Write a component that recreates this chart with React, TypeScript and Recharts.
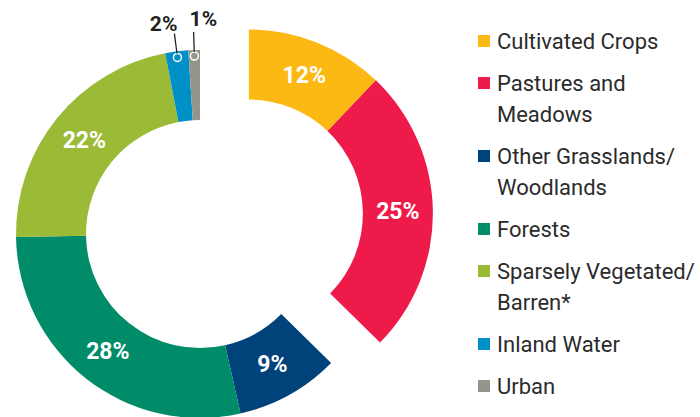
import { PieChart, Pie, Cell, Legend } from 'recharts';

const CATEGORIES = [
  'Cultivated Crops',
  'Pastures and Meadows',
  'Other Grasslands/ Woodlands',
  'Forests',
  'Sparsely Vegetated/ Barren*',
  'Inland Water',
  'Urban',
];
const SHARES = [12, 25, 9, 28, 22, 2, 1];
const COLORS = ['#FDB913', '#ED1A4A', '#00437A', '#008C69', '#9BBB37', '#0090C8', '#95958C'];
// first two slices are pulled out of the ring
const EXPLODED_COUNT = 2;

const RAD = Math.PI / 180;
const INNER = 114;
const OUTER = 184;
const CX = 200;
const CY = 234;
const EXPLODE = 53;

const rows = CATEGORIES.map((name, i) => ({ name, value: SHARES[i] }));
const total = SHARES.reduce((s, n) => s + n, 0);
const explodedRows = rows.slice(0, EXPLODED_COUNT);
const restRows = rows.slice(EXPLODED_COUNT);
const explodedSum = explodedRows.reduce((s, r) => s + r.value, 0);
const splitAngle = 90 - (360 * explodedSum) / total;
const explodeMid = (90 + splitAngle) / 2;
const exCx = CX + EXPLODE * Math.cos(explodeMid * RAD);
const exCy = CY - EXPLODE * Math.sin(explodeMid * RAD);

function makeLabel(count: number) {
  return (props: any) => {
    const { cx, cy, midAngle, innerRadius, outerRadius, value, index } = props;
    const pt = (r: number) => [cx + r * Math.cos(-midAngle * RAD), cy + r * Math.sin(-midAngle * RAD)];
    if (value >= 5) {
      const [x, y] = pt((innerRadius + outerRadius) / 2);
      return (
        <text x={x} y={y} textAnchor="middle" dominantBaseline="central" fill="#fff" fontSize={23} fontWeight={700}>
          {value}%
        </text>
      );
    }
    // small slices: marker circle + leader line + dark label above
    const [px, py] = pt(outerRadius - 6);
    const [sx, sy] = pt(outerRadius - 2);
    const [ex, ey] = pt(outerRadius + 18);
    const last = index === count - 1;
    return (
      <g>
        <circle cx={px} cy={py} r={4} fill="none" stroke="#fff" strokeWidth={1.5} />
        <line x1={sx} y1={sy} x2={ex} y2={ey} stroke="#231F20" strokeWidth={1.3} />
        <text
          x={last ? ex - 4 : ex + 3}
          y={last ? ey - 6 : ey - 3}
          textAnchor={last ? 'start' : 'end'}
          fill="#231F20"
          fontSize={21}
          fontWeight={700}
        >
          {value}%
        </text>
      </g>
    );
  };
}

const renderLegend = () => (
  <ul style={{ listStyle: 'none', margin: 0, padding: 0 }}>
    {CATEGORIES.map((name, i) => (
      <li
        key={name}
        style={{ display: 'flex', alignItems: 'flex-start', marginBottom: 11, fontSize: 22, lineHeight: '31px', color: '#2B2B2B' }}
      >
        <span style={{ width: 12, height: 12, background: COLORS[i], marginTop: 9, marginRight: 7, flexShrink: 0 }} />
        <span>{name}</span>
      </li>
    ))}
  </ul>
);

export default function App() {
  return (
    <div style={{ position: 'absolute', left: 0, top: 0, fontFamily: 'Roboto, sans-serif', background: '#fff' }}>
      <PieChart width={700} height={417} margin={{ top: 0, right: 0, bottom: 0, left: 0 }}>
        <Pie
          data={explodedRows}
          dataKey="value"
          nameKey="name"
          cx={exCx}
          cy={exCy}
          innerRadius={INNER}
          outerRadius={OUTER}
          startAngle={90}
          endAngle={splitAngle}
          stroke="none"
          label={makeLabel(explodedRows.length)}
          labelLine={false}
          isAnimationActive={false}
        >
          {explodedRows.map((r, i) => (
            <Cell key={r.name} fill={COLORS[i]} />
          ))}
        </Pie>
        <Pie
          data={restRows}
          dataKey="value"
          nameKey="name"
          cx={CX}
          cy={CY}
          innerRadius={INNER}
          outerRadius={OUTER}
          startAngle={splitAngle}
          endAngle={-270}
          stroke="none"
          label={makeLabel(restRows.length)}
          labelLine={false}
          isAnimationActive={false}
        >
          {restRows.map((r, i) => (
            <Cell key={r.name} fill={COLORS[i + EXPLODED_COUNT]} />
          ))}
        </Pie>
        <Legend
          content={renderLegend}
          wrapperStyle={{ left: 478, top: 26, right: 'auto', bottom: 'auto', width: 222 }}
        />
      </PieChart>
    </div>
  );
}
